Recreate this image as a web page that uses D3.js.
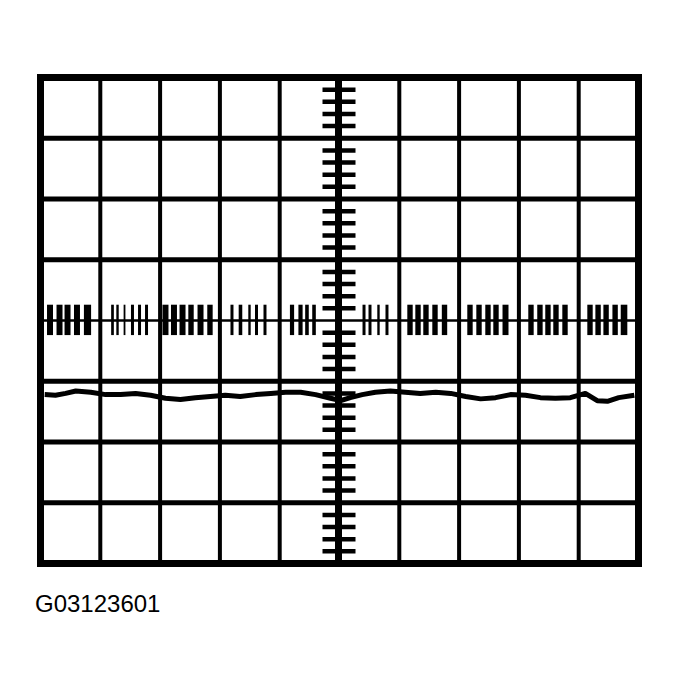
<!DOCTYPE html>
<html>
<head>
<meta charset="utf-8">
<script src="https://cdn.jsdelivr.net/npm/d3@7/dist/d3.min.js"></script>
<style>
  html, body { margin: 0; padding: 0; background: #fff; }
  svg { display: block; }
</style>
</head>
<body>
<script>
// ---- DATA (graticule divisions: x 0..10, y -4..4) ----
const gridX = [1, 2, 3, 4, 6, 7, 8, 9];
const gridY = [-3, -2, -1, 1, 2, 3];
const figureLabel = "G03123601";

// Channel 1: pulse train (center positions in divisions, and pulse widths in divisions)
const pulseCenters = [
  0.159, 0.318, 0.452, 0.610, 0.786,
  1.204, 1.288, 1.405, 1.538, 1.656, 1.773,
  2.090, 2.232, 2.375, 2.517, 2.676, 2.834,
  3.202, 3.344, 3.495, 3.612, 3.754,
  4.206, 4.348, 4.456, 4.574,
  5.410, 5.510, 5.652, 5.794,
  6.179, 6.313, 6.446, 6.597, 6.756,
  7.182, 7.333, 7.483, 7.617, 7.776,
  8.202, 8.352, 8.486, 8.620, 8.771,
  9.189, 9.324, 9.458, 9.609, 9.758
];
const pulseWidths = [
  0.10, 0.10, 0.10, 0.10, 0.12,
  0.045, 0.04, 0.03, 0.05, 0.05, 0.05,
  0.10, 0.10, 0.10, 0.09, 0.10, 0.09,
  0.05, 0.06, 0.04, 0.05, 0.05,
  0.07, 0.07, 0.06, 0.06,
  0.05, 0.05, 0.04, 0.05,
  0.09, 0.09, 0.09, 0.09, 0.09,
  0.09, 0.09, 0.09, 0.09, 0.10,
  0.09, 0.09, 0.09, 0.09, 0.09,
  0.09, 0.09, 0.09, 0.09, 0.11
];
const pulseHigh = 0.26;
const pulseLow = -0.24;

// Channel 2: noisy low-level trace
const trace2X = [0.07, 0.25, 0.42, 0.59, 0.84, 1.09, 1.34, 1.59, 1.84, 2.09, 2.34, 2.59, 2.84,
  3.09, 3.34, 3.60, 3.85, 4.10, 4.35, 4.60, 4.85, 5.02, 5.18, 5.38, 5.60, 5.85, 6.10, 6.35,
  6.61, 6.86, 7.11, 7.36, 7.61, 7.86, 8.11, 8.36, 8.61, 8.86, 9.11, 9.31, 9.48, 9.67, 9.93];
const trace2Y = [-1.22, -1.23, -1.20, -1.16, -1.18, -1.22, -1.22, -1.20, -1.23, -1.28, -1.30, -1.27, -1.25,
  -1.23, -1.25, -1.22, -1.20, -1.18, -1.18, -1.22, -1.28, -1.32, -1.27, -1.22, -1.18, -1.16, -1.18, -1.20,
  -1.18, -1.20, -1.25, -1.29, -1.27, -1.22, -1.23, -1.27, -1.28, -1.27, -1.20, -1.32, -1.33, -1.27, -1.23];

// ---- DRAWING ----
const W = 679, H = 687;
const svg = d3.select("body").append("svg").attr("width", W).attr("height", H);
svg.append("rect").attr("width", W).attr("height", H).attr("fill", "#fff");

const x = d3.scaleLinear().domain([0, 10]).range([40.5, 638.5]);
const y = d3.scaleLinear().domain([-4, 4]).range([563.5, 77.5]);

// pulses
svg.append("g").selectAll("rect").data(pulseCenters).join("rect")
  .attr("x", (d, i) => x(d - pulseWidths[i] / 2))
  .attr("width", (d, i) => x(pulseWidths[i]) - x(0))
  .attr("y", y(pulseHigh))
  .attr("height", y(pulseLow) - y(pulseHigh))
  .attr("fill", "#000");

// trace 2
svg.append("path")
  .datum(trace2X.map((d, i) => [d, trace2Y[i]]))
  .attr("d", d3.line().x(d => x(d[0])).y(d => y(d[1])).curve(d3.curveLinear))
  .attr("fill", "none").attr("stroke", "#000").attr("stroke-width", 5)
  .attr("stroke-linejoin", "round");

// grid
svg.append("g").selectAll("line").data(gridX).join("line")
  .attr("x1", d => x(d)).attr("x2", d => x(d))
  .attr("y1", y(4)).attr("y2", y(-4))
  .attr("stroke", "#000").attr("stroke-width", 4);
svg.append("g").selectAll("line").data(gridY).join("line")
  .attr("x1", x(0)).attr("x2", x(10))
  .attr("y1", d => y(d)).attr("y2", d => y(d))
  .attr("stroke", "#000").attr("stroke-width", 5);

// center axes
svg.append("line").attr("x1", x(0)).attr("x2", x(10)).attr("y1", y(0)).attr("y2", y(0))
  .attr("stroke", "#000").attr("stroke-width", 2.5);
svg.append("line").attr("x1", x(5) - 1).attr("x2", x(5) - 1).attr("y1", y(4)).attr("y2", y(-4))
  .attr("stroke", "#000").attr("stroke-width", 7);

// minor ticks on vertical center axis
const minor = d3.range(-20, 21).filter(k => k % 5 !== 0).map(k => k / 5);
svg.append("g").selectAll("line").data(minor).join("line")
  .attr("x1", x(5) - 17).attr("x2", x(5) + 16)
  .attr("y1", d => y(d)).attr("y2", d => y(d))
  .attr("stroke", "#000").attr("stroke-width", 4.5);

// frame
svg.append("rect")
  .attr("x", x(0)).attr("y", y(4))
  .attr("width", x(10) - x(0)).attr("height", y(-4) - y(4))
  .attr("fill", "none").attr("stroke", "#000").attr("stroke-width", 7);

// label
svg.append("text").attr("x", 35).attr("y", 612)
  .attr("font-family", "'Liberation Sans', Arial, sans-serif")
  .attr("font-size", 24).attr("fill", "#000")
  .text(figureLabel);
</script>
</body>
</html>
